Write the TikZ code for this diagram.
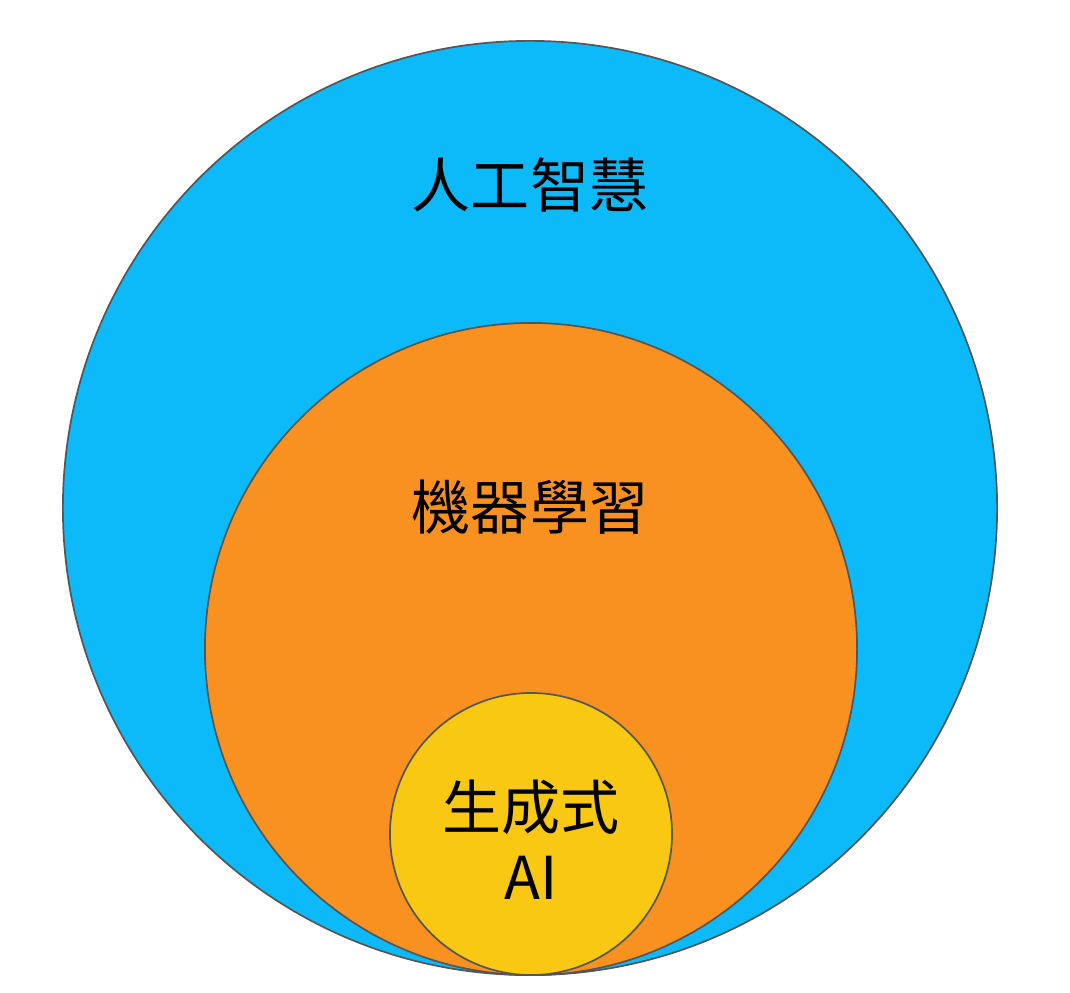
\documentclass[tikz,border=0pt]{standalone}
\usepackage{fontspec}
\setmainfont{Noto Sans CJK TC}
\usetikzlibrary{positioning}
\definecolor{aiblue}{RGB}{12,186,250}
\definecolor{mlorange}{RGB}{249,145,32}
\definecolor{genyellow}{RGB}{248,200,18}
\definecolor{rimgray}{RGB}{85,85,85}

\begin{document}
\begin{tikzpicture}[x=0.025cm,y=-0.025cm,
    ring/.style={circle,draw=rimgray,line width=1.2pt,inner sep=0pt},
    label/.style={font=\fontsize{42}{50}\selectfont,text=black,align=center}]
    \useasboundingbox (0,0) rectangle (1070,992);
    \node[ring,fill=aiblue,minimum size=23.35cm] (ai) at (530,508) {};
    \node[ring,fill=mlorange,minimum size=16.3cm] (ml) at (531,649) {};
    \node[ring,fill=genyellow,minimum size=7.05cm] (gen) at (531,834) {};

    \node[label] (ai_text) at (530,185) {人工智慧};
    \node[label] (ml_text) at (530,507) {機器學習};
    \node[label] (gen_text) at (531,840) {生成式\\AI};
\end{tikzpicture}
\end{document}
